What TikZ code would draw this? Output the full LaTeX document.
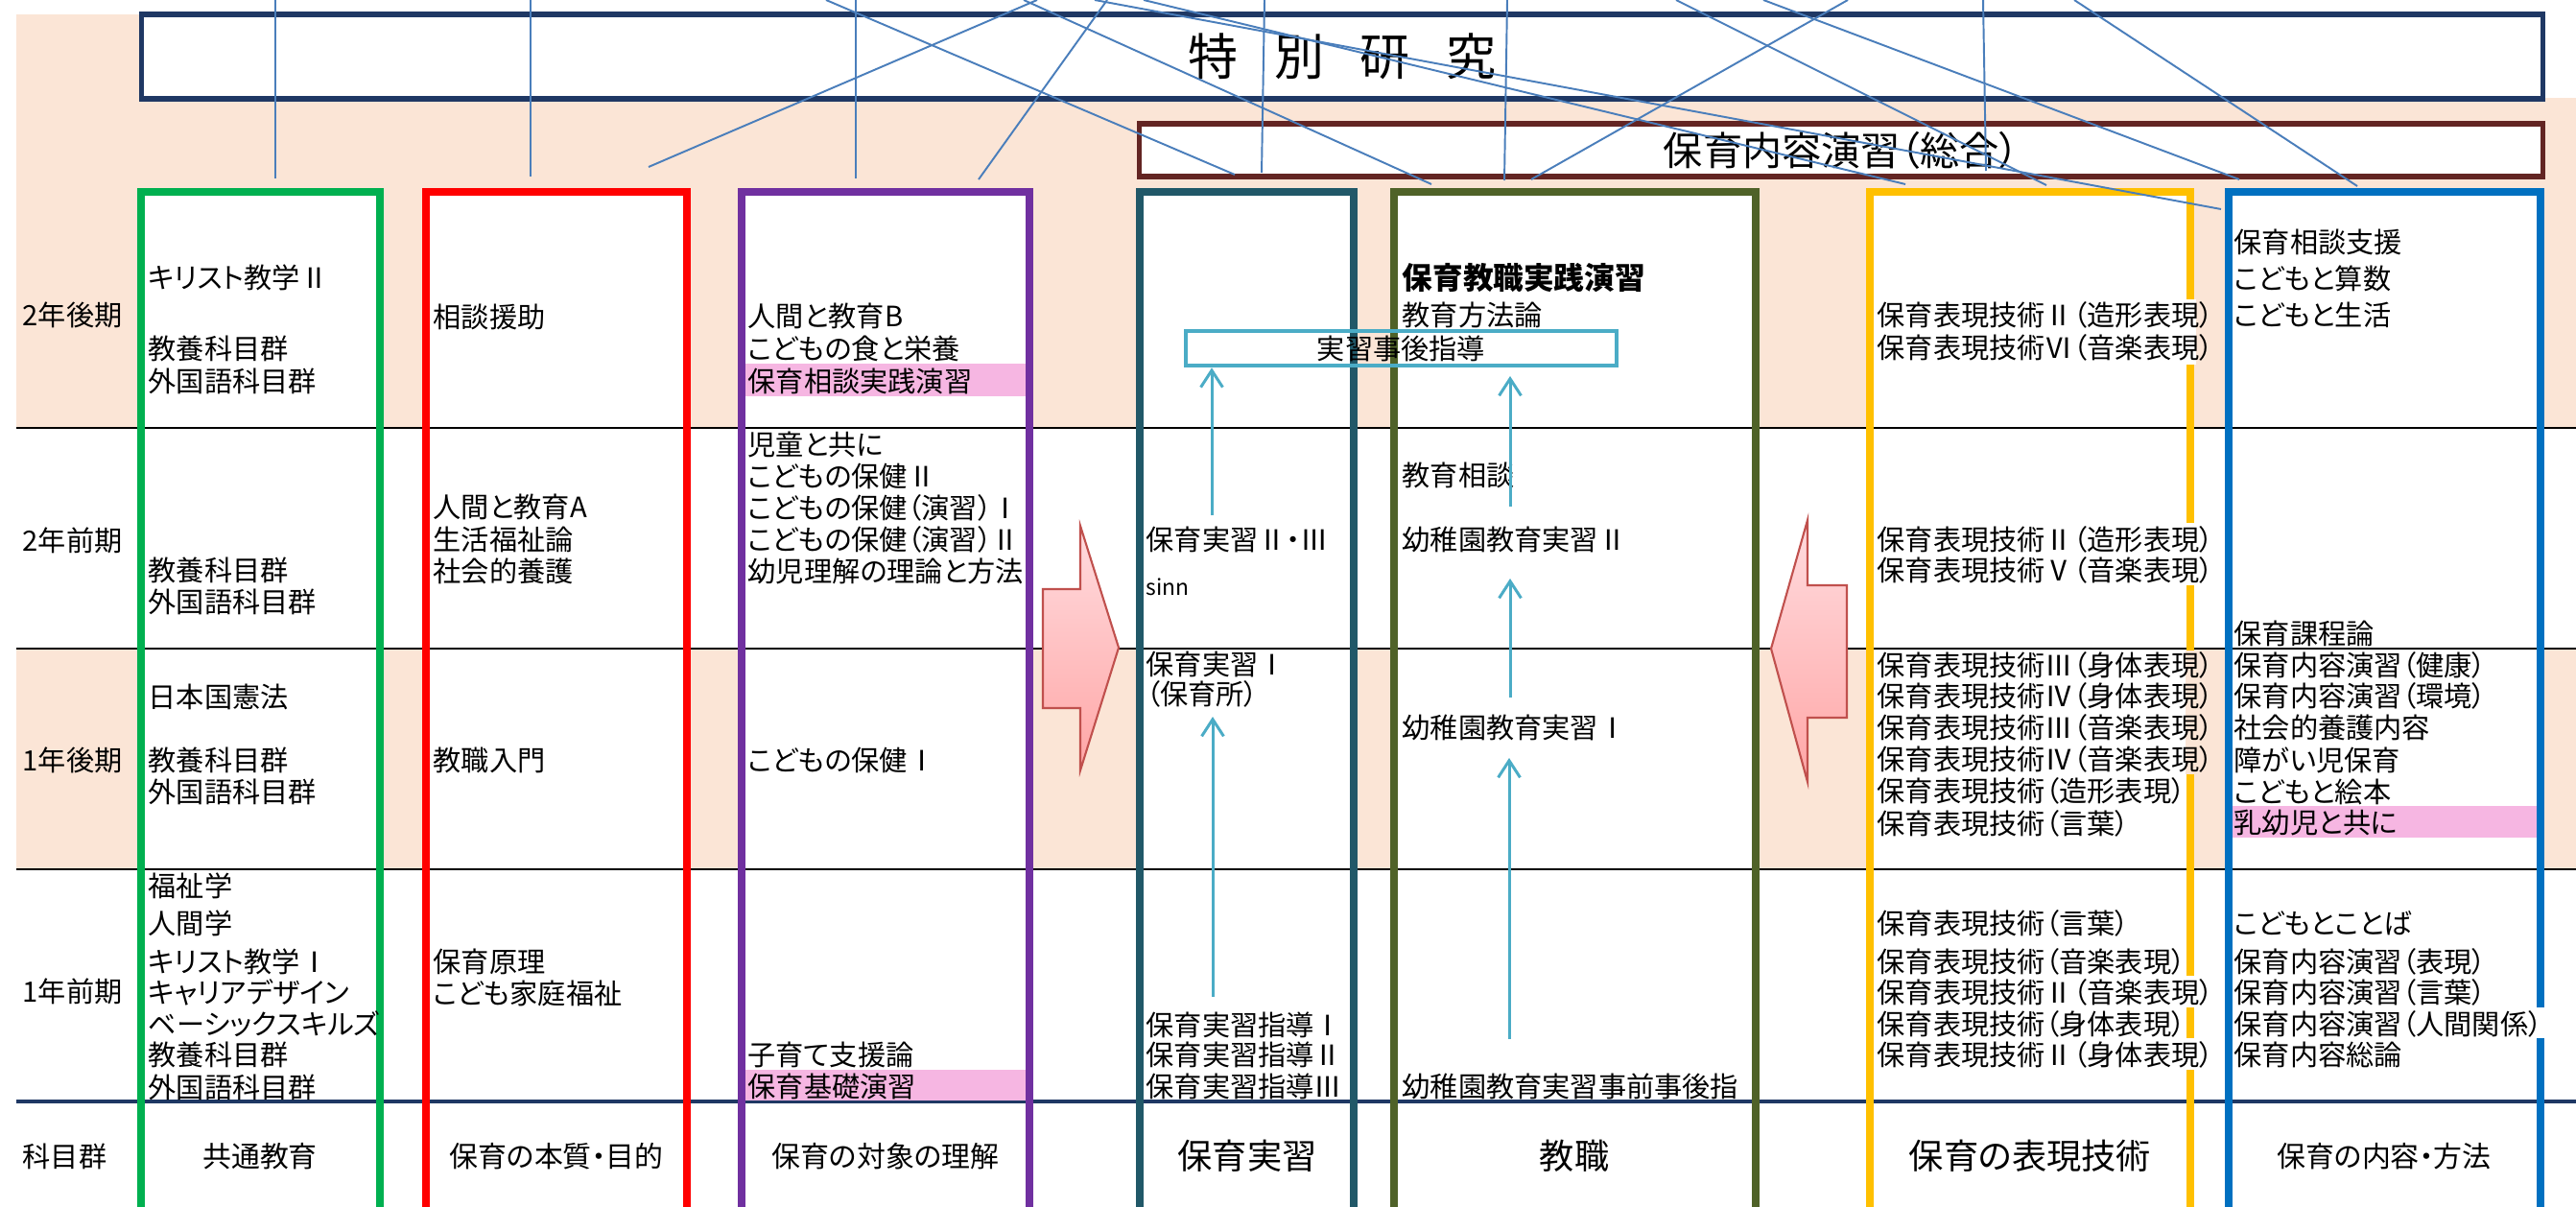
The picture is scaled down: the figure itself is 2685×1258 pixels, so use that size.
\documentclass[tikz,border=0pt]{standalone}
\usepackage{fontspec}
\setmainfont{Noto Sans CJK JP}[RawFeature=+palt]
\usetikzlibrary{arrows.meta}

\definecolor{peach}{HTML}{FBE5D6}
\definecolor{navy}{HTML}{1F3864}
\definecolor{maroon}{HTML}{632523}
\definecolor{cgreen}{HTML}{00B050}
\definecolor{cred}{HTML}{FF0000}
\definecolor{cpurple}{HTML}{7030A0}
\definecolor{cteal}{HTML}{215868}
\definecolor{colive}{HTML}{4F6228}
\definecolor{cyellow}{HTML}{FFC000}
\definecolor{cblue}{HTML}{0070C0}
\definecolor{lblue}{HTML}{4BACC6}
\definecolor{linkblue}{HTML}{4A7EBB}
\definecolor{hilite}{HTML}{F6B6E2}
\definecolor{arrowtop}{HTML}{FFDCDF}
\definecolor{arrowbot}{HTML}{FFA6A6}
\definecolor{arrowline}{HTML}{C0504D}

\begin{document}
\begin{tikzpicture}[x=0.01cm, y=-0.01cm,
	item/.style={anchor=west, inner sep=0pt, font=\fontsize{8.3}{9.4}\selectfont},
	hdr/.style={inner sep=0pt, font=\fontsize{8.5}{10}\selectfont},
	bighdr/.style={inner sep=0pt, font=\fontsize{10.3}{12}\selectfont},
	colbox/.style={line width=2.3pt},
	link/.style={draw=linkblue, line width=0.55pt},
	feed/.style={draw=lblue, line width=0.85pt, -{Straight Barb[length=5pt, width=6.5pt]}},
	bigarrow/.style={draw=arrowline, line width=0.6pt, top color=arrowtop, bottom color=arrowbot}]
\clip (0, 0) rectangle (2685, 1258);
\fill[white] (0, 0) rectangle (2685, 1258);
\fill[peach] (17, 15) rectangle (2685, 446);
\fill[white] (2651, 0) rectangle (2685, 102);
\fill[peach] (17, 676) rectangle (2685, 906);
\foreach \l/\r in {147/396, 444/716, 773/1073, 1188/1411, 1453/1830, 1949/2283, 2323/2648}
	\fill[white] (\l, 200) rectangle (\r, 1270);
\foreach \y in {446, 676, 906}
	\draw[line width=0.4pt] (17, \y) -- (2685, \y);
\draw[navy, line width=1.1pt] (17, 1148) -- (2685, 1148);
\foreach \l/\r/\c in {147/396/cgreen, 444/716/cred, 773/1073/cpurple, 1188/1411/cteal, 1453/1830/colive, 1949/2283/cyellow, 2323/2648/cblue}
	\draw[colbox, \c] (\l, 1270) |- (\r, 200) -- (\r, 1270);
\fill[white] (2278, 312) rectangle (2289, 380);
\fill[white] (2278, 545) rectangle (2289, 610);
\fill[peach] (2278, 678) rectangle (2289, 807);
\fill[white] (2278, 1017) rectangle (2289, 1050);
\fill[white] (2278, 1082) rectangle (2289, 1115);
\fill[white] (2643, 1050) rectangle (2654, 1082);
\fill[hilite] (777, 379) rectangle (1069, 413);
\fill[hilite] (777, 1115) rectangle (1069, 1147);
\fill[hilite] (2327, 840) rectangle (2644, 873);

% row labels
\foreach \y/\t [count=\i] in {328/2年後期, 563/2年前期, 792/1年後期, 1033/1年前期, 1205/科目群}
	\node[item] (term\i) at (23, \y) {\t};

% courses
\foreach \y/\t [count=\i] in {289/キリスト教学Ⅱ, 363/教養科目群, 397/外国語科目群, 594/教養科目群, 627/外国語科目群, 726/日本国憲法, 792/教養科目群, 825/外国語科目群, 923/福祉学, 962/人間学, 1002/キリスト教学Ⅰ, 1034/キャリアデザイン, 1067/ベーシックスキルズ, 1099/教養科目群, 1133/外国語科目群}
	\node[item] (common\i) at (154, \y) {\t};
\foreach \y/\t [count=\i] in {330/相談援助, 528/人間と教育A, 562/生活福祉論, 595/社会的養護, 792/教職入門, 1002/保育原理, 1035/こども家庭福祉}
	\node[item] (essence\i) at (451, \y) {\t};
\foreach \y/\t [count=\i] in {329/人間と教育B, 363/こどもの食と栄養, 397/保育相談実践演習, 463/児童と共に, 496/こどもの保健Ⅱ, 529/こどもの保健（演習）Ⅰ, 562/こどもの保健（演習）Ⅱ, 595/幼児理解の理論と方法, 792/こどもの保健Ⅰ, 1099/子育て支援論, 1132/保育基礎演習}
	\node[item] (target\i) at (779, \y) {\t};
\foreach \y/\t [count=\i] in {562/保育実習Ⅱ・Ⅲ, 692/保育実習Ⅰ, 723/（保育所）, 1068/保育実習指導Ⅰ, 1099/保育実習指導Ⅱ, 1132/保育実習指導Ⅲ}
	\node[item] (practice\i) at (1194, \y) {\t};
\node[item, font=\fontsize{6.5}{7}\selectfont] (sinn) at (1194, 612) {sinn};
\node[item, font=\fontsize{9}{10}\selectfont\bfseries] (teach0) at (1461, 290) {保育教職実践演習};
\foreach \y/\t [count=\i] in {328/教育方法論, 495/教育相談, 562/幼稚園教育実習Ⅱ, 758/幼稚園教育実習Ⅰ, 1132/幼稚園教育実習事前事後指}
	\node[item] (teach\i) at (1461, \y) {\t};
\foreach \y/\t [count=\i] in {328/保育表現技術Ⅱ（造形表現）, 362/保育表現技術Ⅵ（音楽表現）, 562/保育表現技術Ⅱ（造形表現）, 594/保育表現技術Ⅴ（音楽表現）, 693/保育表現技術Ⅲ（身体表現）, 725/保育表現技術Ⅳ（身体表現）, 758/保育表現技術Ⅲ（音楽表現）, 791/保育表現技術Ⅳ（音楽表現）, 824/保育表現技術（造形表現）, 858/保育表現技術（言葉）, 962/保育表現技術（言葉）, 1002/保育表現技術（音楽表現）, 1034/保育表現技術Ⅱ（音楽表現）, 1067/保育表現技術（身体表現）, 1099/保育表現技術Ⅱ（身体表現）}
	\node[item] (express\i) at (1956, \y) {\t};
\foreach \y/\t [count=\i] in {252/保育相談支援, 290/こどもと算数, 328/こどもと生活, 660/保育課程論, 693/保育内容演習（健康）, 725/保育内容演習（環境）, 758/社会的養護内容, 792/障がい児保育, 825/こどもと絵本, 858/乳幼児と共に, 962/こどもとことば, 1002/保育内容演習（表現）, 1034/保育内容演習（言葉）, 1067/保育内容演習（人間関係）, 1099/保育内容総論}
	\node[item] (method\i) at (2328, \y) {\t};

% column headings
\node[hdr] (hcommon) at (271, 1205) {共通教育};
\node[hdr] (hessence) at (580, 1205) {保育の本質・目的};
\node[hdr] (htarget) at (923, 1205) {保育の対象の理解};
\node[bighdr] (hpractice) at (1300, 1205) {保育実習};
\node[bighdr] (hteach) at (1641, 1205) {教職};
\node[bighdr] (hexpress) at (2116, 1205) {保育の表現技術};
\node[hdr] (hmethod) at (2485, 1205) {保育の内容・方法};

% flow arrows
\shadedraw[bigarrow] (1087, 614) -- (1126, 614) -- (1126, 548) -- (1166, 675) -- (1126, 803) -- (1126, 738) -- (1087, 738) -- cycle;
\shadedraw[bigarrow] (1925, 610) -- (1884, 610) -- (1884, 542) -- (1846, 676) -- (1884, 815) -- (1884, 748) -- (1925, 748) -- cycle;

\node[draw=lblue, line width=1.3pt, inner sep=0pt, minimum width=4.49cm, minimum height=0.36cm, font=\fontsize{8.3}{9.4}\selectfont] (post) at (1460.5, 363) {実習事後指導};
\coordinate (pA) at (1264, 1039);
\coordinate (pB) at (1264, 747);
\coordinate (pC) at (1263, 537);
\coordinate (kA) at (1573, 1083);
\coordinate (kB) at (1573, 790);
\coordinate (kC) at (1574, 727);
\coordinate (kD) at (1574, 603);
\coordinate (kE) at (1574, 528);
\coordinate (kF) at (1574, 392);
\draw[feed] (pA) -- (pB);
\draw[feed] (pC) -- (pC |- post.south);
\draw[feed] (kA) -- (kB);
\draw[feed] (kC) -- (kD);
\draw[feed] (kE) -- (kF);

% top boxes
\node[draw=navy, line width=1.5pt, fill=white, inner sep=0pt, minimum width=25.02cm, minimum height=0.88cm, font=\fontsize{14.8}{16}\selectfont] (special) at (1399, 59) {特\hspace{10.7pt}別\hspace{10.7pt}研\hspace{10.7pt}究};
\node[draw=maroon, line width=1.6pt, fill=white, inner sep=0pt, minimum width=14.62cm, minimum height=0.55cm, font=\fontsize{11.7}{13}\selectfont] (sogo) at (1919, 156.5) {保育内容演習（総合）};

\foreach \xa/\xb/\yb [count=\i] in {287/287/186, 553/553/184, 1081/676/174, 892/892/186, 1154/1020/187, 861/1287/182, 1318/1315/180, 1571/1568/188, 1067/1492/192, 1141/2315/218, 1192/1986/192, 1926/1596/187, 1747/2133/193, 1838/2334/187, 2067/2070/178, 2162/2457/194} {
	\coordinate (top\i) at (\xa, 0);
	\coordinate (end\i) at (\xb, \yb);
	\draw[link] (top\i) -- (end\i);
}
\end{tikzpicture}
\end{document}
